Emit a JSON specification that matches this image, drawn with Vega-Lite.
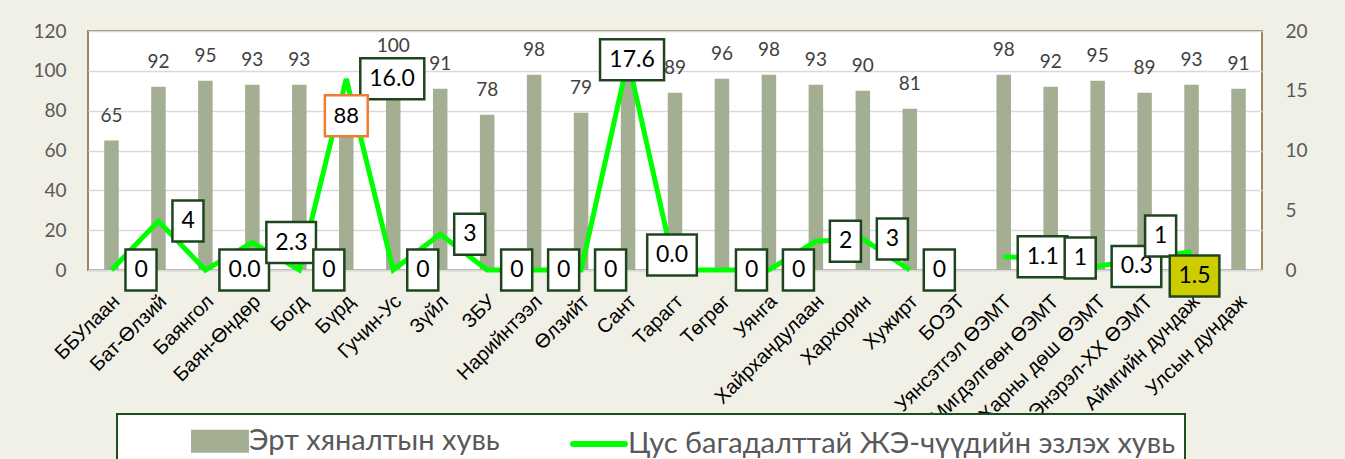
{
  "$schema": "https://vega.github.io/schema/vega-lite/v6.json",
  "width": 1174,
  "height": 239,
  "autosize": "none",
  "padding": {"left": 88, "top": 31, "right": 83, "bottom": 189},
  "background": "#f1f0e6",
  "config": {
    "view": {"fill": "white", "stroke": "#9c8660", "strokeWidth": 2},
    "font": "Lato"
  },
  "data": {
    "values": [
      {"name": "ББУлаан", "early": 65, "anemia": 0, "anemiaLabel": "0"},
      {"name": "Бат-Өлзий", "early": 92, "anemia": 4.1, "anemiaLabel": "4"},
      {"name": "Баянгол", "early": 95, "anemia": 0, "anemiaLabel": "0.0"},
      {"name": "Баян-Өндөр", "early": 93, "anemia": 2.3, "anemiaLabel": "2.3"},
      {"name": "Богд", "early": 93, "anemia": 0, "anemiaLabel": "0"},
      {"name": "Бүрд", "early": 88, "anemia": 16.0, "anemiaLabel": "16.0"},
      {"name": "Гучин-Ус", "early": 100, "anemia": 0, "anemiaLabel": "0"},
      {"name": "Зүйл", "early": 91, "anemia": 3, "anemiaLabel": "3"},
      {"name": "ЗБУ", "early": 78, "anemia": 0, "anemiaLabel": "0"},
      {"name": "Нарийнтээл", "early": 98, "anemia": 0, "anemiaLabel": "0"},
      {"name": "Өлзийт", "early": 79, "anemia": 0, "anemiaLabel": "0"},
      {"name": "Сант", "early": 98, "anemia": 17.6, "anemiaLabel": "17.6"},
      {"name": "Тарагт", "early": 89, "anemia": 0, "anemiaLabel": "0.0"},
      {"name": "Төгрөг", "early": 96, "anemia": 0, "anemiaLabel": "0"},
      {"name": "Уянга", "early": 98, "anemia": 0, "anemiaLabel": "0"},
      {"name": "Хайрхандулаан", "early": 93, "anemia": 2.4, "anemiaLabel": "2"},
      {"name": "Хархорин", "early": 90, "anemia": 2.6, "anemiaLabel": "3"},
      {"name": "Хужирт", "early": 81, "anemia": 0, "anemiaLabel": "0"},
      {"name": "БОЭТ", "early": null, "anemia": null, "anemiaLabel": null},
      {"name": "Уянсэтгэл ӨЭМТ", "early": 98, "anemia": 1.1, "anemiaLabel": "1.1"},
      {"name": "Мигдэлгөөн ӨЭМТ", "early": 92, "anemia": 1.0, "anemiaLabel": "1"},
      {"name": "Харны дөш ӨЭМТ", "early": 95, "anemia": 0.3, "anemiaLabel": "0.3"},
      {"name": "Энэрэл-ХХ ӨЭМТ", "early": 89, "anemia": 1.0, "anemiaLabel": "1"},
      {"name": "Аймгийн дундаж", "early": 93, "anemia": 1.5, "anemiaLabel": "1.5"},
      {"name": "Улсын дундаж", "early": 91, "anemia": null, "anemiaLabel": null}
    ]
  },
  "encoding": {
    "x": {
      "field": "name",
      "type": "nominal",
      "sort": null,
      "scale": {
        "domain": ["ББУлаан", "Бат-Өлзий", "Баянгол", "Баян-Өндөр", "Богд", "Бүрд", "Гучин-Ус", "Зүйл", "ЗБУ", "Нарийнтээл", "Өлзийт", "Сант", "Тарагт", "Төгрөг", "Уянга", "Хайрхандулаан", "Хархорин", "Хужирт", "БОЭТ", "Уянсэтгэл ӨЭМТ", "Мигдэлгөөн ӨЭМТ", "Харны дөш ӨЭМТ", "Энэрэл-ХХ ӨЭМТ", "Аймгийн дундаж", "Улсын дундаж"],
        "paddingInner": 0,
        "paddingOuter": 0
      },
      "axis": {
        "title": null,
        "labelAngle": -45,
        "labelAlign": "right",
        "labelBaseline": "middle",
        "labelFont": "Liberation Sans",
        "labelFontSize": 20,
        "labelColor": "#000000",
        "labelPadding": 28,
        "labelOffset": 5,
        "labelLimit": 400,
        "ticks": false,
        "domainColor": "#d9d9d9",
        "domainWidth": 2
      }
    }
  },
  "layer": [
    {
      "encoding": {
        "y": {
          "field": "early",
          "type": "quantitative",
          "scale": {"domain": [0, 120], "nice": false},
          "axis": {
            "orient": "left",
            "title": null,
            "values": [0, 20, 40, 60, 80, 100, 120],
            "grid": true,
            "gridColor": "#d9d9d9",
            "gridWidth": 1.5,
            "domain": false,
            "ticks": false,
            "labelPadding": 22,
            "labelFont": "Lato",
            "labelFontSize": 19,
            "labelColor": "#595959"
          }
        }
      },
      "layer": [
        {
          "mark": {"type": "bar", "width": 14.5},
          "encoding": {
            "color": {
              "datum": "Эрт хяналтын хувь",
              "scale": {
                "domain": ["Эрт хяналтын хувь", "Цус багадалттай ЖЭ-чүүдийн эзлэх хувь"],
                "range": ["#a3ae93", "#00ff00"]
              },
              "legend": {
                "orient": "none",
                "legendX": 29,
                "legendY": 383,
                "direction": "horizontal",
                "columns": 2,
                "title": null,
                "padding": 9,
                "fillColor": "white",
                "strokeColor": "#1e4d1e",
                "symbolSize": 900,
                "symbolOffset": 76,
                "labelOffset": 11,
                "columnPadding": 5,
                "labelFont": "Lato",
                "labelFontSize": 29,
                "labelColor": "#595959",
                "labelLimit": 900,
                "symbolStrokeWidth": 6,
                "labelExpr": "datum.label === 'Цус багадалттай ЖЭ-чүүдийн эзлэх хувь' ? datum.label + '\u00a0\u00a0\u00a0\u00a0\u00a0\u00a0\u00a0\u00a0\u00a0\u00a0\u00a0\u00a0' : datum.label",
                "encode": {
                  "symbols": {
                    "update": {
                      "shape": {"signal": "datum.value === 'Эрт хяналтын хувь' ? 'M-1.73,-0.57H1.73V0.57H-1.73Z' : 'M-1.73,0H1.73'"},
                      "fill": {"signal": "datum.value === 'Эрт хяналтын хувь' ? '#a3ae93' : 'transparent'"},
                      "stroke": {"signal": "datum.value === 'Эрт хяналтын хувь' ? 'transparent' : '#00ff00'"},
                      "strokeWidth": {"value": 6},
                      "strokeCap": {"value": "round"},
                      "opacity": {"value": 1}
                    }
                  },
                  "legend": {"update": {"strokeWidth": {"value": 2}}}
                }
              }
            }
          }
        },
        {
          "transform": [{"filter": "datum.name !== 'Бүрд' && isValid(datum.early)"}],
          "mark": {"type": "text", "dy": -25, "baseline": "middle", "fontSize": 19, "font": "Lato", "color": "#404040"},
          "encoding": {"text": {"field": "early", "type": "quantitative"}}
        }
      ]
    },
    {
      "encoding": {
        "y": {
          "field": "anemia",
          "type": "quantitative",
          "scale": {"domain": [0, 20], "nice": false},
          "axis": {
            "orient": "right",
            "title": null,
            "values": [0, 5, 10, 15, 20],
            "grid": false,
            "domain": false,
            "ticks": false,
            "labelPadding": 23,
            "labelFont": "Lato",
            "labelFontSize": 19,
            "labelColor": "#595959"
          }
        }
      },
      "layer": [
        {
          "mark": {"type": "line", "strokeWidth": 5, "invalid": "break-paths-show-domains"},
          "encoding": {"color": {"datum": "Цус багадалттай ЖЭ-чүүдийн эзлэх хувь"}}
        },
        {
          "transform": [{"filter": "isValid(datum.anemiaLabel) && indexof(['Сант','Тарагт','Энэрэл-ХХ ӨЭМТ','Аймгийн дундаж'], datum.name) < 0"}],
          "mark": {"type": "point", "size": 1024, "filled": true, "fill": "white", "stroke": "#1e461e", "strokeWidth": 2.5, "opacity": 1, "xOffset": 14},
          "encoding": {
            "shape": {
              "field": "anemiaLabel",
              "type": "nominal",
              "scale": {
                "domain": ["0", "1", "2", "3", "4", "0.0", "0.3", "1.1", "2.3", "16.0"],
                "range": [
                  "M0,-1.28H1.94V1.28H0Z", "M0,-1.28H1.94V1.28H0Z", "M0,-1.28H1.94V1.28H0Z", "M0,-1.28H1.94V1.28H0Z", "M0,-1.28H1.94V1.28H0Z",
                  "M0,-1.28H3.1V1.28H0Z", "M0,-1.28H3.1V1.28H0Z", "M0,-1.28H3.1V1.28H0Z", "M0,-1.28H3.1V1.28H0Z",
                  "M0,-1.28H4V1.28H0Z"
                ]
              },
              "legend": null
            }
          }
        },
        {
          "transform": [{"filter": "isValid(datum.anemiaLabel) && indexof(['Сант','Тарагт','Энэрэл-ХХ ӨЭМТ','Аймгийн дундаж'], datum.name) < 0"}],
          "mark": {"type": "text", "align": "left", "dx": 23, "baseline": "middle", "fontSize": 23, "font": "Lato", "color": "#000000"},
          "encoding": {"text": {"field": "anemiaLabel"}}
        },
        {
          "transform": [{"filter": "datum.name === 'Сант'"}],
          "mark": {"type": "point", "shape": "M-2,-1.28H2V1.28H-2Z", "size": 1024, "filled": true, "fill": "white", "stroke": "#1e461e", "strokeWidth": 2.5, "opacity": 1, "xOffset": 4},
          "encoding": {}
        },
        {
          "transform": [{"filter": "datum.name === 'Сант'"}],
          "mark": {"type": "text", "align": "center", "dx": 4, "baseline": "middle", "fontSize": 23, "font": "Lato", "color": "#000000"},
          "encoding": {"text": {"field": "anemiaLabel"}}
        },
        {
          "transform": [{"filter": "datum.name === 'Тарагт'"}],
          "mark": {"type": "point", "shape": "M-1.55,-1.28H1.55V1.28H-1.55Z", "size": 1024, "filled": true, "fill": "white", "stroke": "#1e461e", "strokeWidth": 2.5, "opacity": 1, "xOffset": -3, "yOffset": -15},
          "encoding": {}
        },
        {
          "transform": [{"filter": "datum.name === 'Тарагт'"}],
          "mark": {"type": "text", "align": "center", "dx": -3, "dy": -15, "baseline": "middle", "fontSize": 23, "font": "Lato", "color": "#000000"},
          "encoding": {"text": {"field": "anemiaLabel"}}
        },
        {
          "transform": [{"filter": "datum.name === 'Энэрэл-ХХ ӨЭМТ'"}],
          "mark": {"type": "point", "shape": "M-0.97,-1.28H0.97V1.28H-0.97Z", "size": 1024, "filled": true, "fill": "white", "stroke": "#1e461e", "strokeWidth": 2.5, "opacity": 1, "xOffset": 16, "yOffset": -22},
          "encoding": {}
        },
        {
          "transform": [{"filter": "datum.name === 'Энэрэл-ХХ ӨЭМТ'"}],
          "mark": {"type": "text", "align": "center", "dx": 16, "dy": -22, "baseline": "middle", "fontSize": 23, "font": "Lato", "color": "#000000"},
          "encoding": {"text": {"field": "anemiaLabel"}}
        },
        {
          "transform": [{"filter": "datum.name === 'Аймгийн дундаж'"}],
          "mark": {"type": "point", "shape": "M-1.55,-1.28H1.55V1.28H-1.55Z", "size": 1024, "filled": true, "fill": "#cccc00", "stroke": "#1e461e", "strokeWidth": 2.5, "opacity": 1, "xOffset": 3, "yOffset": 24},
          "encoding": {}
        },
        {
          "transform": [{"filter": "datum.name === 'Аймгийн дундаж'"}],
          "mark": {"type": "text", "align": "center", "dx": 3, "dy": 24, "baseline": "middle", "fontSize": 23, "font": "Lato", "color": "#000000"},
          "encoding": {"text": {"field": "anemiaLabel"}}
        }
      ]
    },
    {
      "transform": [{"filter": "datum.name === 'Бүрд'"}],
      "encoding": {
        "y": {
          "field": "early",
          "type": "quantitative",
          "scale": {"domain": [0, 120], "nice": false},
          "axis": null
        }
      },
      "layer": [
        {
          "mark": {"type": "point", "shape": "M-1.34,-1.28H1.34V1.28H-1.34Z", "size": 1024, "filled": true, "fill": "white", "stroke": "#ed7d31", "strokeWidth": 2.5, "opacity": 1, "yOffset": 21},
          "encoding": {}
        },
        {
          "mark": {"type": "text", "dy": 21, "baseline": "middle", "fontSize": 22, "font": "Lato", "color": "#000000"},
          "encoding": {"text": {"field": "early", "type": "quantitative"}}
        }
      ]
    }
  ],
  "resolve": {"scale": {"y": "independent"}}
}
